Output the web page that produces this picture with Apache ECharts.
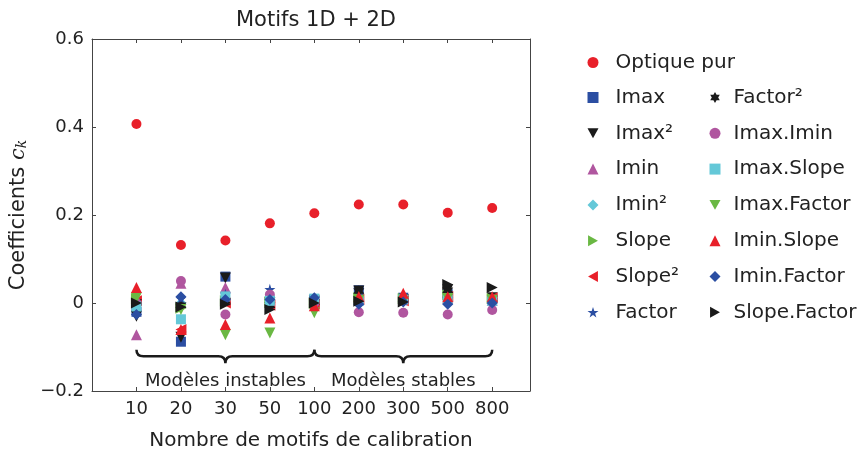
<!DOCTYPE html>
<html>
<head>
<meta charset="utf-8">
<script src="https://cdn.jsdelivr.net/npm/echarts@6/dist/echarts.min.js"></script>
<style>html,body{margin:0;padding:0;background:#fff}#main{width:861px;height:457px}</style>
</head>
<body>
<div id="main"></div>
<script>
// categories (nombre de motifs) and y ticks
var categories = ['10', '20', '30', '50', '100', '200', '300', '500', '800'];
var yTicks = [-0.2, 0, 0.2, 0.4, 0.6];

// coefficients, one value per category
var optique     = [0.407, 0.132, 0.142, 0.181, 0.204, 0.224, 0.224, 0.205, 0.216];
var imax        = [-0.020, -0.088, 0.060, 0.005, 0.008, 0.029, 0.012, 0.020, 0.010];
var imax2       = [-0.030, -0.078, 0.057, 0.000, 0.004, 0.027, 0.008, 0.030, 0.012];
var imin        = [-0.072, 0.045, 0.035, 0.020, 0.005, 0.010, 0.010, 0.010, 0.006];
var imin2       = [-0.005, 0.000, 0.010, 0.005, 0.006, 0.005, 0.008, 0.012, 0.008];
var slope       = [0.010, -0.012, 0.005, 0.002, 0.000, 0.012, 0.010, 0.018, 0.010];
var slope2      = [0.005, -0.060, 0.000, -0.005, -0.003, 0.008, 0.005, 0.015, 0.012];
var factor      = [0.000, 0.010, 0.020, 0.031, 0.003, 0.006, 0.006, 0.010, 0.008];
var factor2     = [0.002, -0.005, 0.005, -0.005, 0.002, 0.027, 0.010, 0.029, 0.010];
var imaxImin    = [0.000, 0.050, -0.026, 0.019, 0.000, -0.021, -0.022, -0.026, -0.016];
var imaxSlope   = [-0.008, -0.037, 0.015, 0.005, 0.010, 0.005, 0.008, 0.008, 0.005];
var imaxFactor  = [0.012, -0.015, -0.072, -0.068, -0.022, 0.006, 0.003, 0.010, 0.006];
var iminSlope   = [0.035, -0.060, -0.049, -0.034, -0.006, 0.015, 0.022, 0.014, 0.014];
var iminFactor  = [-0.026, 0.014, 0.008, 0.008, 0.012, -0.003, 0.002, -0.003, 0.000];
var slopeFactor = [0.000, -0.009, -0.003, -0.015, 0.000, 0.004, 0.002, 0.042, 0.035];

// accolades : [début, fin, milieu, texte] en index de catégorie
var braces = [[1, 5, 3, 'Modèles instables'], [5, 9, 7, 'Modèles stables']];

var RED = '#e8202a', BLUE = '#2b4ea2', BLACK = '#1a1a1a', PURPLE = '#b0569f', CYAN = '#64c8d8', GREEN = '#6ab843';
var DOWN = 'path://M0,0L10,0L5,9Z';
var RIGHT = 'path://M0,0L9,5L0,10Z';
var LEFT = 'path://M9,0L0,5L9,10Z';
var STAR = 'path://M5,0L6.12,3.45L9.76,3.45L6.82,5.59L7.94,9.05L5,6.91L2.06,9.05L3.18,5.59L0.24,3.45L3.88,3.45Z';
var HEX = 'path://M5,0L6.44,2.5L9.33,2.5L7.89,5L9.33,7.5L6.44,7.5L5,10L3.56,7.5L0.67,7.5L2.11,5L0.67,2.5L3.56,2.5Z';
var FONT = 'DejaVu Sans';
var AX = '#444';

function pts(arr) {
  return arr.map(function (v, i) { return [i + 1, v]; });
}
function sc(name, arr, symbol, color, size) {
  return {
    name: name, type: 'scatter', data: pts(arr),
    symbol: symbol, symbolSize: size || 10,
    itemStyle: { color: color, opacity: 1 },
    emphasis: { disabled: true }
  };
}

var series = [
  sc('Optique pur', optique, 'circle', RED, 10),
  sc('Imax', imax, 'rect', BLUE, 10),
  sc('Imax²', imax2, DOWN, BLACK, 11),
  sc('Imin', imin, 'triangle', PURPLE, 11),
  sc('Imin²', imin2, 'diamond', CYAN, 11),
  sc('Slope', slope, RIGHT, GREEN, 11),
  sc('Slope²', slope2, LEFT, RED, 11),
  sc('Factor', factor, STAR, BLUE, 11),
  sc('Factor²', factor2, HEX, BLACK, 11),
  sc('Imax.Imin', imaxImin, 'circle', PURPLE, 10),
  sc('Imax.Slope', imaxSlope, 'rect', CYAN, 10),
  sc('Imax.Factor', imaxFactor, DOWN, GREEN, 11),
  sc('Imin.Slope', iminSlope, 'triangle', RED, 11),
  sc('Imin.Factor', iminFactor, 'diamond', BLUE, 11),
  sc('Slope.Factor', slopeFactor, RIGHT, BLACK, 11)
];

// accolades dessinées dans l'espace des données
series.push({
  type: 'custom', silent: true, z: 1,
  data: braces.map(function (b) { return [b[0], b[1], b[2]]; }),
  renderItem: function (params, api) {
    var p0 = api.coord([api.value(0), -0.106]);
    var p1 = api.coord([api.value(1), -0.106]);
    var pm = api.coord([api.value(2), -0.121]);
    var yT = p0[1], yL = pm[1], yB = api.coord([api.value(2), -0.137])[1];
    var r = 7, x0 = p0[0], x1 = p1[0], xm = pm[0];
    var d = 'M' + x0 + ',' + yT + ' Q' + x0 + ',' + yL + ' ' + (x0 + r) + ',' + yL +
      ' L' + (xm - r) + ',' + yL + ' Q' + xm + ',' + yL + ' ' + xm + ',' + yB +
      ' Q' + xm + ',' + yL + ' ' + (xm + r) + ',' + yL +
      ' L' + (x1 - r) + ',' + yL + ' Q' + x1 + ',' + yL + ' ' + x1 + ',' + yT;
    return { type: 'path', shape: { pathData: d }, style: { stroke: BLACK, lineWidth: 2.5, fill: null } };
  }
});
series.push({
  type: 'custom', silent: true,
  data: braces.map(function (b) { return [b[2], -0.177]; }),
  renderItem: function (params, api) {
    var p = api.coord([api.value(0), api.value(1)]);
    return { type: 'text', style: { x: p[0], y: p[1], text: braces[params.dataIndex][3], fill: '#222',
      font: '18px "' + FONT + '"', align: 'center', verticalAlign: 'middle' } };
  }
});

function legend(left, top, pad, data) {
  return {
    orient: 'vertical', left: left, top: top, itemWidth: 11, itemHeight: 11, itemGap: 15.8,
    textStyle: { fontFamily: FONT, fontSize: 20, color: '#222', lineHeight: 20, padding: [0, 0, 0, pad] },
    selectedMode: false, data: data
  };
}

var myChart = echarts.init(document.getElementById('main'));
var option = {
  animation: false,
  title: {
    text: 'Motifs 1D + 2D', left: 311, top: 5, textAlign: 'center',
    textStyle: { fontFamily: FONT, fontSize: 21, fontWeight: 'normal', color: '#222' }
  },
  legend: [
    legend(582.5, 47.5, 12, ['Optique pur']),
    legend(582.5, 82.5, 12, ['Imax', 'Imax²', 'Imin', 'Imin²', 'Slope', 'Slope²', 'Factor']),
    legend(704.5, 82.5, 8, ['Factor²', 'Imax.Imin', 'Imax.Slope', 'Imax.Factor', 'Imin.Slope', 'Imin.Factor', 'Slope.Factor'])
  ],
  grid: { left: 92, right: 331, top: 39, bottom: 66, containLabel: false },
  xAxis: [
    {
      type: 'value', min: 0, max: 9.85, interval: 1,
      name: 'Nombre de motifs de calibration', nameLocation: 'middle', nameGap: 40,
      nameTextStyle: { fontFamily: FONT, fontSize: 20, color: '#222' },
      axisLine: { onZero: false, lineStyle: { color: AX } },
      axisTick: { inside: true, length: 4, lineStyle: { color: AX } },
      axisLabel: {
        fontFamily: FONT, fontSize: 18, color: '#222', margin: 9,
        formatter: function (v) { return (v >= 1 && v <= categories.length) ? categories[v - 1] : ''; }
      },
      splitLine: { show: false }
    },
    {
      type: 'value', position: 'top', min: 0, max: 9.85, interval: 1,
      axisLine: { onZero: false, lineStyle: { color: AX } },
      axisTick: { inside: true, length: 4, lineStyle: { color: AX } },
      axisLabel: { show: false }, splitLine: { show: false }
    }
  ],
  yAxis: [
    {
      type: 'value', min: yTicks[0], max: yTicks[yTicks.length - 1], interval: 0.2,
      name: 'Coefficients {c|c}{k|k}', nameLocation: 'middle', nameGap: 47,
      nameTextStyle: {
        fontFamily: FONT, fontSize: 21, color: '#222',
        rich: {
          c: { fontFamily: 'DejaVu Serif', fontStyle: 'italic', fontSize: 21, color: '#222' },
          k: { fontFamily: 'DejaVu Serif', fontStyle: 'italic', fontSize: 14, color: '#222', verticalAlign: 'bottom', padding: [7, 0, 0, 0] }
        }
      },
      axisLine: { show: true, onZero: false, lineStyle: { color: AX } },
      axisTick: { show: true, inside: true, length: 4, lineStyle: { color: AX } },
      axisLabel: {
        fontFamily: FONT, fontSize: 18, color: '#222', margin: 8,
        formatter: function (v) { return Math.abs(v) < 1e-9 ? '0' : (v < 0 ? '\u2212' + (-v).toFixed(1) : v.toFixed(1)); }
      },
      splitLine: { show: false }
    },
    {
      type: 'value', position: 'right', min: yTicks[0], max: yTicks[yTicks.length - 1], interval: 0.2,
      axisLine: { show: true, onZero: false, lineStyle: { color: AX } },
      axisTick: { show: true, inside: true, length: 4, lineStyle: { color: AX } },
      axisLabel: { show: false }, splitLine: { show: false }
    }
  ],
  series: series
};
myChart.setOption(option);
</script>
</body>
</html>
